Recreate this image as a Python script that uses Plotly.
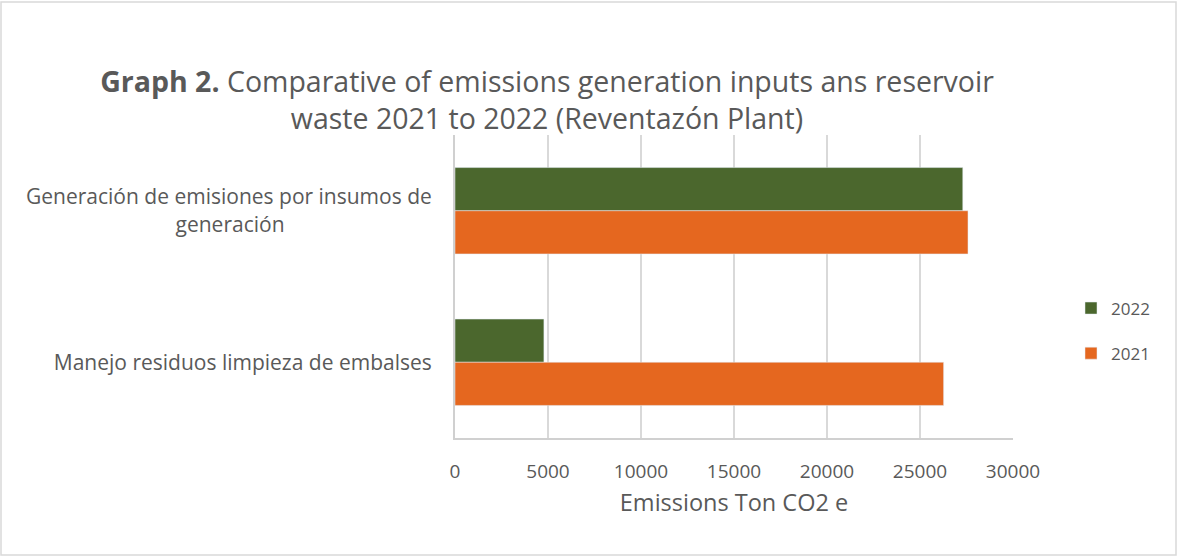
import plotly.graph_objects as go

# datos
categorias = [
    "Generación de emisiones por insumos de<br>generación",
    "Manejo residuos limpieza de embalses",
]
etiquetas = [
    "Generación de emisiones por insumos de<br>generación" + "\u00a0" * 27,
    "Manejo residuos limpieza de embalses",
]
valores_2022 = [27300, 4780]
valores_2021 = [27580, 26270]
ticks_x = [0, 5000, 10000, 15000, 20000, 25000, 30000]

gris = "#595959"
fuente = "Open Sans"

# área de trazado en píxeles
izq, arriba, ancho_plot, alto_plot = 455, 135, 558, 303
abajo_px = arriba + alto_plot


def px_a_paper_x(px):
    return (px - izq) / ancho_plot


def px_a_paper_y(py):
    return (abajo_px - py) / alto_plot


fig = go.Figure()
fig.add_trace(
    go.Bar(
        y=categorias,
        x=valores_2022,
        orientation="h",
        name="2022",
        legendgroup="a",
        marker={"color": "#4B672D"},
    )
)
fig.add_trace(
    go.Bar(
        y=categorias,
        x=valores_2021,
        orientation="h",
        name="2021",
        legendgroup="b",
        marker={"color": "#E5671F"},
    )
)

fig.update_layout(
    width=1178,
    height=557,
    margin={
        "l": izq,
        "r": 1178 - izq - ancho_plot,
        "t": arriba,
        "b": 557 - arriba - alto_plot,
    },
    paper_bgcolor="white",
    plot_bgcolor="white",
    barmode="group",
    bargap=0.43,
    bargroupgap=0,
    font={"family": fuente, "color": gris, "size": 18},
    title={
        "text": "<b>Graph 2.</b> Comparative of emissions generation inputs ans reservoir<br>waste 2021 to 2022 (Reventazón Plant)",
        "x": 547 / 1178,
        "xanchor": "center",
        "y": 1 - 92 / 557,
        "yanchor": "middle",
        "font": {"family": fuente, "size": 28.5, "color": gris},
    },
    legend={
        "x": px_a_paper_x(1071),
        "xanchor": "left",
        "y": px_a_paper_y(331),
        "yanchor": "middle",
        "font": {"size": 17, "color": gris},
        "tracegroupgap": 20,
    },
    xaxis={
        "range": [0, 30000],
        "tickvals": ticks_x,
        "ticktext": [str(t) for t in ticks_x],
        "showgrid": True,
        "gridcolor": "#d9d9d9",
        "gridwidth": 1.5,
        "zeroline": False,
        "showline": True,
        "linecolor": "#d0d0d0",
        "linewidth": 2,
        "ticks": "",
        "ticklabelstandoff": 15,
        "tickfont": {"size": 19, "color": gris},
        "title": {
            "text": "Emissions Ton CO2 e",
            "font": {"size": 23.5, "color": gris},
            "standoff": 12,
        },
    },
    yaxis={
        "autorange": "reversed",
        "tickvals": categorias,
        "ticktext": etiquetas,
        "showline": True,
        "linecolor": "#d0d0d0",
        "linewidth": 2,
        "ticks": "",
        "ticklabelstandoff": 17,
        "tickfont": {"size": 21, "color": gris},
    },
    shapes=[
        {
            "type": "rect",
            "xref": "paper",
            "yref": "paper",
            "x0": px_a_paper_x(1),
            "x1": px_a_paper_x(1176),
            "y0": px_a_paper_y(555),
            "y1": px_a_paper_y(2),
            "line": {"color": "#d9d9d9", "width": 1.5},
            "layer": "below",
        }
    ],
)

# sin el margen por defecto del <body>
fig.write_html(
    "out.html",
    config={"displayModeBar": False},
    post_script="document.body.style.margin = '0';",
)
